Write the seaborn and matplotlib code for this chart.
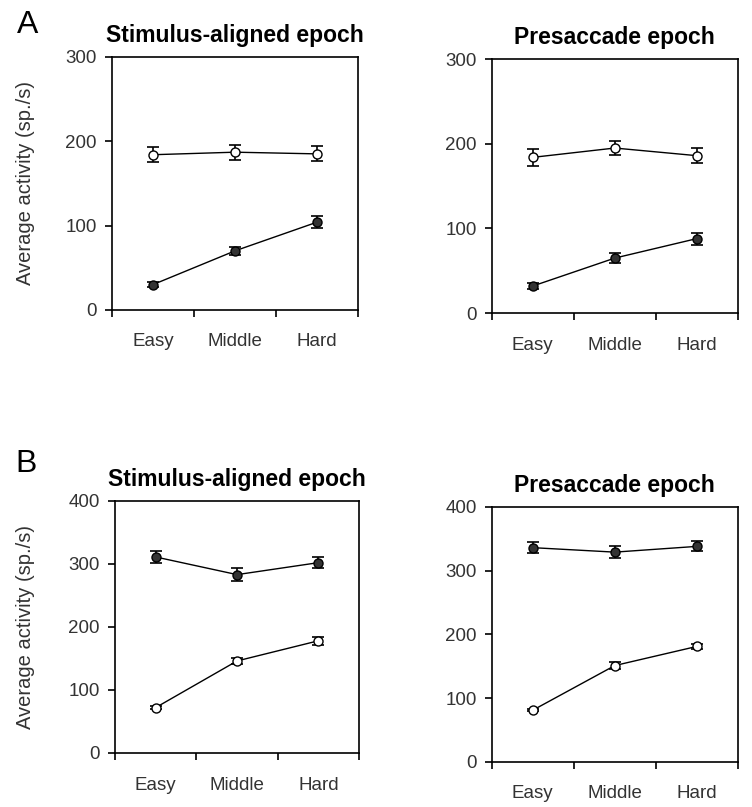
"""
Average activity per difficulty level, stimulus-aligned vs presaccade epoch
"""

import numpy as np
import pandas as pd
import seaborn as sns
import matplotlib
matplotlib.use('Agg')
import matplotlib.pyplot as plt

sns.set_style('white')
plt.rcParams['font.family'] = ['Liberation Sans', 'DejaVu Sans']

levels = ['Easy', 'Middle', 'Hard']

# panel A
a_stim_open = [184, 187, 185]
a_stim_open_err = [9, 9, 9]
a_stim_fill = [30, 70, 104]
a_stim_fill_err = [3, 5, 7]

a_pre_open = [184, 195, 186]
a_pre_open_err = [10, 8, 9]
a_pre_fill = [32, 65, 88]
a_pre_fill_err = [3, 6, 7]

# panel B
b_stim_fill = [311, 283, 302]
b_stim_fill_err = [10, 10, 9]
b_stim_open = [72, 146, 178]
b_stim_open_err = [3, 5, 6]

b_pre_fill = [336, 329, 338]
b_pre_fill_err = [9, 9, 8]
b_pre_open = [81, 151, 181]
b_pre_open_err = [2, 6, 4]

TXT = '#333333'


def draw_panel(ax, series, ymax, title, ylabel=None, ylab_x=-0.35):
    for vals, errs, face in series:
        df = pd.DataFrame({'x': np.arange(len(levels)), 'y': vals})
        ax.errorbar(df['x'], df['y'], yerr=errs, fmt='none', ecolor='black',
                    elinewidth=1.2, capsize=4.5, capthick=1.2, zorder=2)
        sns.lineplot(data=df, x='x', y='y', ax=ax, color='black', lw=1.0,
                     marker='o', markersize=6.5, markerfacecolor=face,
                     markeredgecolor='black', markeredgewidth=1.0, zorder=3)
    ax.set_xlim(-0.5, 2.5)
    ax.set_ylim(0, ymax)
    ax.set_yticks(np.arange(0, ymax + 1, 100))
    ax.set_xticks([-0.5, 0.5, 1.5, 2.5])
    ax.set_xticklabels([])
    ax.set_xticks(np.arange(len(levels)), minor=True)
    ax.set_xticklabels(levels, minor=True)
    ax.tick_params(axis='x', which='major', bottom=True, direction='out',
                   length=5, width=1.2, color='black')
    ax.tick_params(axis='x', which='minor', bottom=True, length=0, pad=17,
                   labelsize=13.5, labelcolor=TXT)
    ax.tick_params(axis='y', left=True, direction='out', length=5, width=1.2,
                   color='black', pad=6, labelsize=13.5, labelcolor=TXT)
    for sp in ax.spines.values():
        sp.set_color('black')
        sp.set_linewidth(1.2)
        sp.set_visible(True)
    ax.set_xlabel('')
    if ylabel:
        ax.set_ylabel(ylabel, fontsize=14.5, color=TXT)
        ax.yaxis.set_label_coords(ylab_x, 0.5)
    else:
        ax.set_ylabel('')
    ax.set_title(title, fontsize=16.5, fontweight='bold', color='black', pad=11)


fig = plt.figure(figsize=(7.52, 8.07), dpi=100)
ax1 = fig.add_axes([0.149, 0.616, 0.327, 0.3135])
ax2 = fig.add_axes([0.654, 0.612, 0.327, 0.3147])
ax3 = fig.add_axes([0.153, 0.067, 0.3245, 0.3123])
ax4 = fig.add_axes([0.654, 0.056, 0.327, 0.3159])

ylab = 'Average activity (sp./s)'
draw_panel(ax1, [(a_stim_open, a_stim_open_err, 'white'),
                 (a_stim_fill, a_stim_fill_err, '#333333')],
           300, 'Stimulus-aligned epoch', ylab, -0.313)
draw_panel(ax2, [(a_pre_open, a_pre_open_err, 'white'),
                 (a_pre_fill, a_pre_fill_err, '#333333')],
           300, 'Presaccade epoch')
draw_panel(ax3, [(b_stim_fill, b_stim_fill_err, '#333333'),
                 (b_stim_open, b_stim_open_err, 'white')],
           400, 'Stimulus-aligned epoch', ylab, -0.328)
draw_panel(ax4, [(b_pre_fill, b_pre_fill_err, '#333333'),
                 (b_pre_open, b_pre_open_err, 'white')],
           400, 'Presaccade epoch')

fig.text(0.023, 0.969, 'A', fontsize=23, color='black', va='center')
fig.text(0.020, 0.425, 'B', fontsize=23, color='black', va='center')

fig.savefig('out.png', dpi=100)
